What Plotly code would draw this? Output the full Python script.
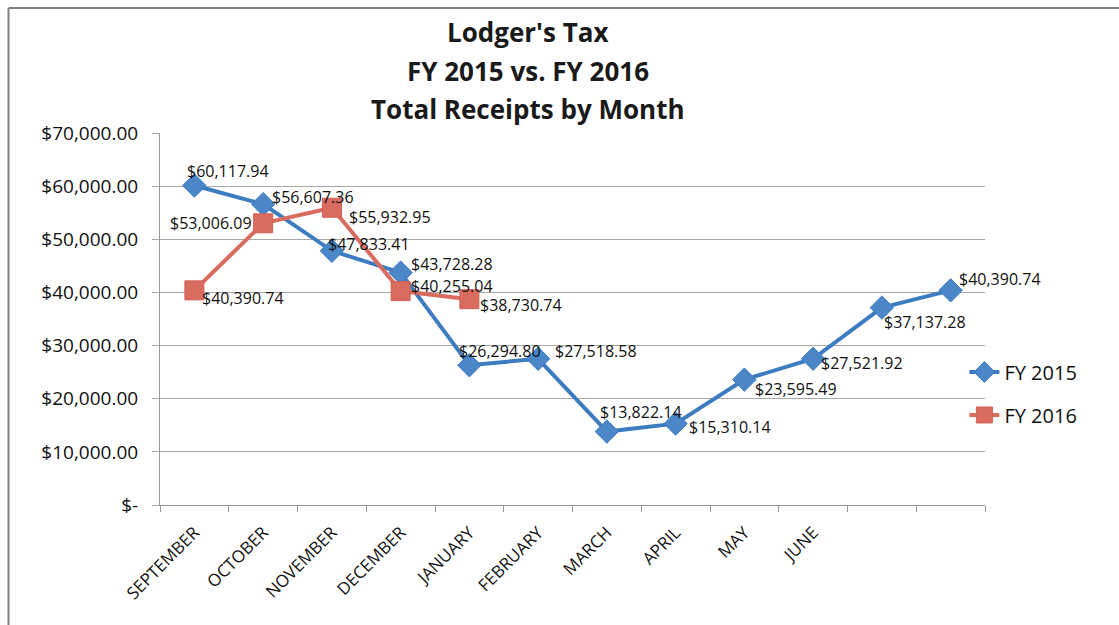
import plotly.graph_objects as go

months = ["SEPTEMBER", "OCTOBER", "NOVEMBER", "DECEMBER", "JANUARY", "FEBRUARY",
          "MARCH", "APRIL", "MAY", "JUNE", "", ""]
fy2015 = [60117.94, 56607.36, 47833.41, 43728.28, 26294.80, 27518.58,
          13822.14, 15310.14, 23595.49, 27521.92, 37137.28, 40390.74]
fy2016 = [40390.74, 53006.09, 55932.95, 40255.04, 38730.74]
y_tick_vals = [0, 10000, 20000, 30000, 40000, 50000, 60000, 70000]
y_tick_text = ["$-", "$10,000.00", "$20,000.00", "$30,000.00", "$40,000.00",
               "$50,000.00", "$60,000.00", "$70,000.00"]
title_lines = ["Lodger's Tax", "FY 2015 vs. FY 2016", "Total Receipts by Month"]

# label placement (pixel shifts from the point), style only
shift2015 = [(-9, 15, "left"), (7, 7, "left"), (-6, 7, "left"), (8, 9, "left"),
             (-12, 14, "left"), (15, 8, "left"), (-9, 20, "left"), (11, -3, "left"),
             (9, -9, "left"), (6, -4, "left"), (0, -14, "left"), (6, 11, "left")]
shift2016 = [(6, -8, "left"), (-9, 0, "right"), (15, -9, "left"), (8, 5, "left"),
             (9, -6, "left")]

x15 = list(range(len(fy2015)))
x16 = list(range(len(fy2016)))

def fmt(v):
    return "${:,.2f}".format(v)

FONT = "Open Sans"
LABEL_FONT = dict(family=FONT, size=16, color="#111111")
fig = go.Figure()
fig.add_trace(go.Scatter(
    x=x15, y=fy2015, name="FY 2015", legendgroup="a", mode="lines+markers",
    line=dict(color="#3D7CC0", width=4),
    marker=dict(symbol="diamond", size=18, color="#4A86C8", line=dict(color="#3D7CC0", width=1)),
    cliponaxis=False,
))
fig.add_trace(go.Scatter(
    x=x16, y=fy2016, name="FY 2016", legendgroup="b", mode="lines+markers",
    line=dict(color="#DA6B5F", width=4),
    marker=dict(symbol="square", size=19, color="#DA6B5F", line=dict(color="#D06055", width=1)),
    cliponaxis=False,
))
for xs, ys, shifts in [(x15, fy2015, shift2015), (x16, fy2016, shift2016)]:
    for xv, yv, (dx, dy, anc) in zip(xs, ys, shifts):
        fig.add_annotation(x=xv, y=yv, text=fmt(yv), showarrow=False,
                           xanchor=anc, yanchor="middle", xshift=dx, yshift=dy,
                           font=LABEL_FONT)

fig.update_layout(
    width=1119, height=625,
    margin=dict(l=160, r=134, t=133, b=120, autoexpand=False),
    paper_bgcolor="white", plot_bgcolor="white",
    font=dict(family=FONT, color="#111111"),
    legend=dict(x=0.975, y=0.41, xanchor="left", yanchor="top",
                font=dict(family=FONT, size=20, color="#111111"),
                traceorder="grouped", tracegroupgap=14, bgcolor="rgba(0,0,0,0)"),
    showlegend=True,
)
for line, py in zip(title_lines, [32, 71, 109]):
    fig.add_annotation(text="<b>" + line + "</b>", xref="paper", yref="paper",
                       x=(529 - 160) / 828, y=(505 - py) / 372,
                       xanchor="center", yanchor="middle", showarrow=False,
                       font=dict(family=FONT, size=26, color="#1a1a1a"))
fig.update_xaxes(
    range=[-0.5, 11.5], tickmode="array", tickvals=x15, ticktext=months,
    tickangle=-45, ticks="", showgrid=False, showline=True, linecolor="#9a9a9a", linewidth=1,
    tickfont=dict(family=FONT, size=17, color="#111111"), zeroline=False,
    ticklabelstandoff=10,
    minor=dict(ticks="outside", tick0=-0.5, dtick=1, ticklen=6, tickcolor="#9a9a9a", showgrid=False),
)
fig.update_yaxes(
    range=[0, 70000], tickmode="array", tickvals=y_tick_vals, ticktext=y_tick_text,
    showgrid=True, gridcolor="#a8a8a8", gridwidth=1, showline=True, linecolor="#9a9a9a",
    ticks="outside", ticklen=7, tickcolor="#a8a8a8", zeroline=False,
    ticklabelstandoff=10,
    tickfont=dict(family=FONT, size=19, color="#111111"),
)
fig.add_shape(type="line", xref="paper", yref="paper",
              x0=-0.1836, x1=1.17, y0=1.336, y1=1.336,
              line=dict(color="#808080", width=2))
fig.add_shape(type="line", xref="paper", yref="paper",
              x0=-0.1836, x1=-0.1836, y0=-0.34, y1=1.336,
              line=dict(color="#808080", width=2))
fig.write_html("out.html", config={"displayModeBar": False},
               post_script="document.body.style.margin='0';")
